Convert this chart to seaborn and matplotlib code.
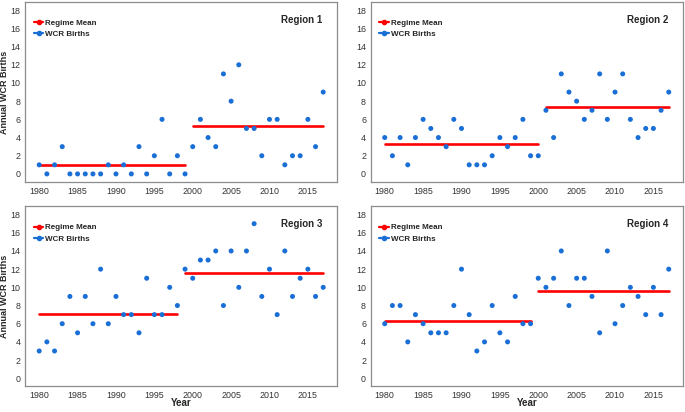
import numpy as np
import pandas as pd
import matplotlib
matplotlib.use("Agg")
import matplotlib.pyplot as plt
from matplotlib.lines import Line2D
import seaborn as sns

# yillar ve bolgeler
years = list(range(1980, 2018))
regions = ["Region 1", "Region 2", "Region 3", "Region 4"]

# WCR dogumlari
births_r1 = [1, 0, 1, 3, 0, 0, 0, 0, 0, 1, 0, 1, 0, 3, 0, 2, 6, 0, 2, 0,
             3, 6, 4, 3, 11, 8, 12, 5, 5, 2, 6, 6, 1, 2, 2, 6, 3, 9]
births_r2 = [4, 2, 4, 1, 4, 6, 5, 4, 3, 6, 5, 1, 1, 1, 2, 4, 3, 4, 6, 2,
             2, 7, 4, 11, 9, 8, 6, 7, 11, 6, 9, 11, 6, 4, 5, 5, 7, 9]
births_r3 = [3, 4, 3, 6, 9, 5, 9, 6, 12, 6, 9, 7, 7, 5, 11, 7, 7, 10, 8,
             12, 11, 13, 13, 14, 8, 14, 10, 14, 17, 9, 12, 7, 14, 9, 11, 12, 9, 10]
births_r4 = [6, 8, 8, 4, 7, 6, 5, 5, 5, 8, 12, 7, 3, 4, 8, 5, 4, 9, 6, 6,
             11, 10, 11, 14, 8, 11, 11, 9, 5, 14, 6, 8, 10, 9, 7, 10, 7, 12]

# ikinci rejimin ilk yili
regime_shift = [2000, 2001, 1999, 2000]

all_births = [births_r1, births_r2, births_r3, births_r4]

frames = []
for reg, b, shift in zip(regions, all_births, regime_shift):
    d = pd.DataFrame({"year": years, "births": b})
    d["region"] = reg
    d["regime"] = np.where(d["year"] >= shift, "after", "before")
    d["regime_mean"] = d.groupby("regime")["births"].transform("mean")
    frames.append(d)
df = pd.concat(frames, ignore_index=True)

sns.set_style("white")
plt.rcParams["font.family"] = ["Liberation Sans", "DejaVu Sans"]

blue = "#1a6fd6"
red = "#ff0000"
grey = "#8c8c8c"

fig, axes = plt.subplots(2, 2, figsize=(6.85, 4.12), dpi=100)
fig.subplots_adjust(left=0.0365, right=0.997, top=0.995, bottom=0.062,
                    wspace=0.106, hspace=0.135)

for i, (ax, reg) in enumerate(zip(axes.flat, regions)):
    sub = df[df["region"] == reg]
    sns.lineplot(data=sub, x="year", y="regime_mean", units="regime",
                 estimator=None, color=red, linewidth=1.9, ax=ax, legend=False)
    sns.scatterplot(data=sub, x="year", y="births", color=blue, s=13,
                    edgecolor="none", ax=ax, legend=False, zorder=3)

    ax.set_xlim(1978.15, 2018.85)
    ax.set_ylim(-0.9, 18.9)
    ax.set_xticks([1980, 1985, 1990, 1995, 2000, 2005, 2010, 2015])
    ax.set_yticks(range(0, 19, 2))
    ax.tick_params(axis="both", labelsize=6.4, colors="#333333", length=2,
                   width=0.6, pad=1.2, direction="out")
    ax.tick_params(axis="both", color=grey)
    for sp in ax.spines.values():
        sp.set_color(grey)
        sp.set_linewidth(0.9)

    ax.text(0.953, 0.9, reg, transform=ax.transAxes, ha="right", va="center",
            fontsize=7, fontweight="bold")

    if i % 2 == 0:
        ax.set_ylabel("Annual WCR Births", fontsize=6.5, fontweight="bold")
        ax.yaxis.set_label_coords(-0.051, 0.5)
    else:
        ax.set_ylabel("")
    if i >= 2:
        ax.set_xlabel("Year", fontsize=7, fontweight="bold")
        ax.xaxis.set_label_coords(0.5, -0.066)
    else:
        ax.set_xlabel("")

    handles = [
        Line2D([0], [0], color=red, linewidth=1.6, marker="o", markersize=3),
        Line2D([0], [0], color=blue, linewidth=1.6, marker="o", markersize=3),
    ]
    leg = ax.legend(handles, ["Regime Mean", "WCR Births"], loc="upper left",
                    bbox_to_anchor=(0.01, 0.935), frameon=False,
                    prop={"size": 5.8, "weight": "bold"}, handlelength=1.2,
                    handletextpad=0.2, labelspacing=0.45, borderaxespad=0.3)

fig.savefig("out.png", dpi=100)
